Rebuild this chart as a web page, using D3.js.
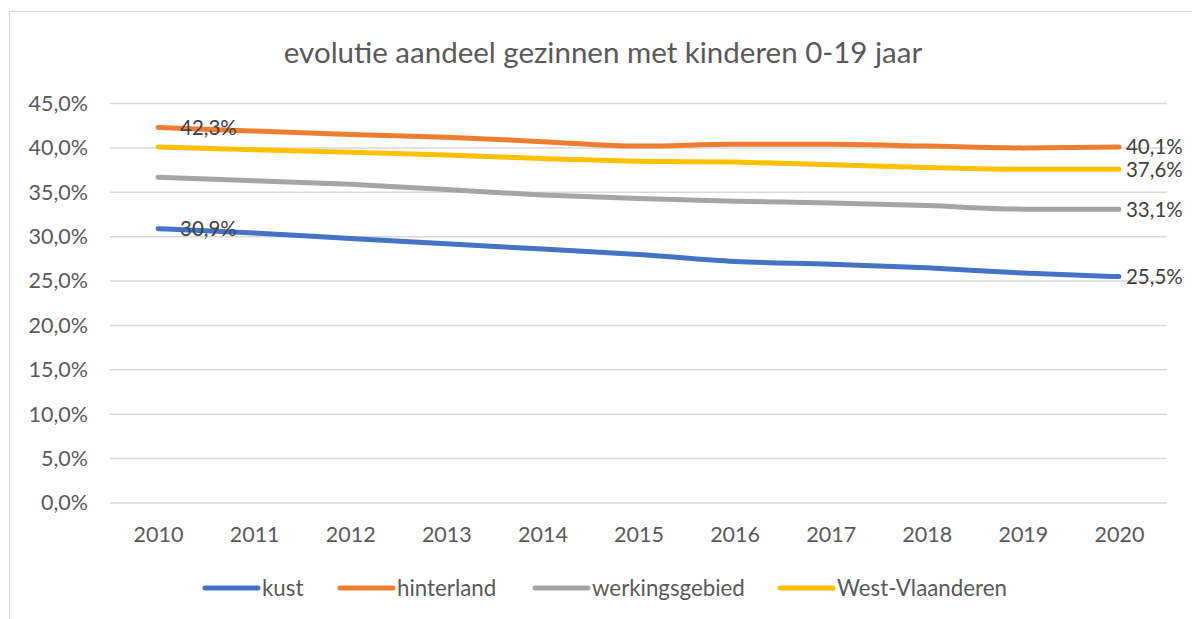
<!DOCTYPE html>
<html><head><meta charset="utf-8">
<script src="https://cdn.jsdelivr.net/npm/d3@7"></script>
<style>
html,body{margin:0;padding:0;background:#fff;}
svg{display:block;font-family:Lato, "Open Sans", sans-serif;}
</style></head>
<body>
<svg id="chart" width="1192" height="619"></svg>
<script>
const title = "evolutie aandeel gezinnen met kinderen 0-19 jaar";
const years = ["2010","2011","2012","2013","2014","2015","2016","2017","2018","2019","2020"];
const seriesNames = ["kust","hinterland","werkingsgebied","West-Vlaanderen"];
const seriesColors = ["#4472C4","#ED7D31","#A5A5A5","#FFC000"];
const kust = [30.9,30.4,29.8,29.2,28.6,28.0,27.2,26.9,26.5,25.9,25.5];
const hinterland = [42.3,41.9,41.5,41.2,40.7,40.2,40.4,40.4,40.2,40.0,40.1];
const werkingsgebied = [36.7,36.3,35.9,35.3,34.7,34.3,34.0,33.8,33.5,33.1,33.1];
const westVlaanderen = [40.1,39.8,39.5,39.2,38.8,38.5,38.4,38.1,37.8,37.6,37.6];
const yTicks = [0,5,10,15,20,25,30,35,40,45];
// data labels: [seriesIndex, yearIndex]
const labelPoints = [[0,0],[1,0],[0,10],[1,10],[2,10],[3,10]];

const seriesValues = [kust, hinterland, werkingsgebied, westVlaanderen];
const series = seriesNames.map((n,i)=>({name:n,color:seriesColors[i],values:seriesValues[i]}));

const svg = d3.select("#chart");
const fmt = v => v.toFixed(1).replace(".", ",") + "%";
const textColor = "#595959";

// outer border
svg.append("rect").attr("x",9.5).attr("y",11.5).attr("width",1200).attr("height",700)
  .attr("fill","none").attr("stroke","#D9D9D9").attr("stroke-width",1.2);

const x = d3.scalePoint().domain(years).range([110,1167]).padding(0.5);
const y = d3.scaleLinear().domain([0,45]).range([503,103.5]);

// title
svg.append("text").attr("x",603).attr("y",63).attr("text-anchor","middle")
  .attr("fill",textColor).attr("font-size",29.5).text(title);

// gridlines
svg.append("g").selectAll("line").data(yTicks).join("line")
  .attr("x1",110).attr("x2",1167)
  .attr("y1",d=>y(d)).attr("y2",d=>y(d))
  .attr("stroke","#D9D9D9").attr("stroke-width",1.5);

// y axis
const yAxis = d3.axisLeft(y).tickValues(yTicks).tickSize(0).tickPadding(0)
  .tickFormat(d => d.toFixed(1).replace(".", ",") + "%");
const gy = svg.append("g").attr("transform","translate(88,0)").call(yAxis);
gy.select(".domain").remove();
gy.selectAll("text").attr("fill",textColor).attr("font-size",21.5).attr("font-family","Lato");

// x axis
const xAxis = d3.axisBottom(x).tickSize(0).tickPadding(0);
const gx = svg.append("g").attr("transform","translate(0,527)").call(xAxis);
gx.select(".domain").remove();
gx.selectAll("text").attr("fill",textColor).attr("font-size",21.5).attr("font-family","Lato").attr("dy","0.71em");

// lines
const line = d3.line().x((d,i)=>x(years[i])).y(d=>y(d)).curve(d3.curveMonotoneX);
svg.append("g").selectAll("path").data(series).join("path")
  .attr("d",d=>line(d.values)).attr("fill","none")
  .attr("stroke",d=>d.color).attr("stroke-width",5)
  .attr("stroke-linecap","round").attr("stroke-linejoin","round");

// data labels
svg.append("g").selectAll("text").data(labelPoints).join("text")
  .attr("x",d=>x(years[d[1]]) + (d[1]===0 ? 22 : 7))
  .attr("y",d=>y(series[d[0]].values[d[1]]))
  .attr("dy","0.36em")
  .attr("fill","#404040").attr("font-size",20.5)
  .text(d=>fmt(series[d[0]].values[d[1]]));

// legend
const legendX = [203, 338, 533, 778];
const lg = svg.append("g").selectAll("g").data(series).join("g")
  .attr("transform",(d,i)=>`translate(${legendX[i]},588)`);
lg.append("line").attr("x1",2).attr("x2",55).attr("y1",0).attr("y2",0)
  .attr("stroke",d=>d.color).attr("stroke-width",5).attr("stroke-linecap","round");
lg.append("text").attr("x",59).attr("y",0).attr("dy","0.36em")
  .attr("fill",textColor).attr("font-size",22.3).text(d=>d.name);
</script>
</body></html>
